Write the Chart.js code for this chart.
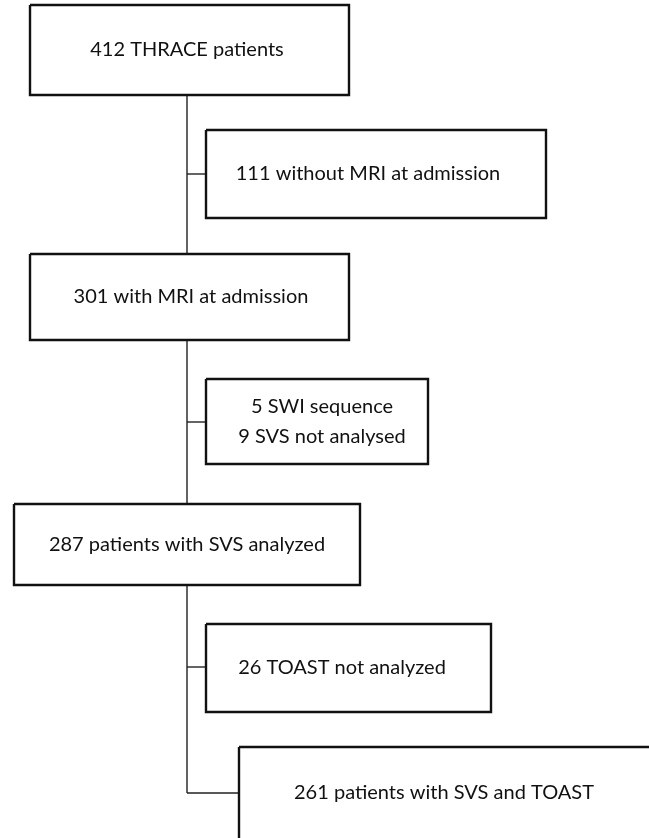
<!DOCTYPE html>
<html>
<head>
<meta charset="utf-8">
<title>THRACE flow chart</title>
<script src="https://cdn.jsdelivr.net/npm/chart.js@4.4.1/dist/chart.umd.min.js"></script>
<style>
    html, body { margin: 0; padding: 0; background: #ffffff; }
    #wrap { width: 649px; height: 838px; position: relative; }
</style>
</head>
<body>
<div id="wrap"><canvas id="flow"></canvas></div>
<script>
// Patient counts at each step of the flow
const stepCounts = [412, 111, 301, [5, 9], 287, 26, 261];
const stepTexts = [
    ["THRACE patients"],
    ["without MRI at admission"],
    ["with MRI at admission"],
    ["SWI sequence", "SVS not analysed"],
    ["patients with SVS analyzed"],
    ["TOAST not analyzed"],
    ["patients with SVS and TOAST"]
];

// Layout of the boxes in chart units (x 0..649, y 0..838 top-down)
const boxLayout = [
    { left: 30,  top: 5,   right: 349, bottom: 95,  textX: 187 },
    { left: 206, top: 130, right: 546, bottom: 218, textX: 368 },
    { left: 30,  top: 254, right: 349, bottom: 340, textX: 191 },
    { left: 206, top: 379, right: 428, bottom: 464, textX: 322 },
    { left: 14,  top: 504, right: 360, bottom: 585, textX: 187 },
    { left: 206, top: 624, right: 491, bottom: 712, textX: 342 },
    { left: 239, top: 747, right: 700, bottom: 900, textX: 444, textY: 793 }
];

// Connector lines: main trunk and side branches
const trunkX = 187;
const trunkSegments = [[95, 254], [340, 504], [585, 793]];
const branches = [[174, 206], [422, 206], [667, 206], [793, 239]];

const datasets = [];

boxLayout.forEach(b => {
    datasets.push({
        data: [
            { x: b.left, y: b.top }, { x: b.right, y: b.top },
            { x: b.right, y: b.bottom }, { x: b.left, y: b.bottom },
            { x: b.left, y: b.top }
        ],
        borderColor: '#111111',
        borderWidth: 2.4,
        borderJoinStyle: 'miter',
        showLine: true,
        pointRadius: 0,
        fill: false
    });
});

trunkSegments.forEach(s => {
    datasets.push({
        data: [{ x: trunkX, y: s[0] }, { x: trunkX, y: s[1] }],
        borderColor: '#222222',
        borderWidth: 1.4,
        showLine: true,
        pointRadius: 0
    });
});

branches.forEach(br => {
    datasets.push({
        data: [{ x: trunkX, y: br[0] }, { x: br[1], y: br[0] }],
        borderColor: '#222222',
        borderWidth: 1.4,
        showLine: true,
        pointRadius: 0
    });
});

// Draws the box texts at positions converted through the scales
const boxTextPlugin = {
    id: 'boxText',
    afterDatasetsDraw(chart) {
        const ctx = chart.ctx;
        const xs = chart.scales.x;
        const ys = chart.scales.y;
        ctx.save();
        ctx.fillStyle = '#111111';
        ctx.font = '20px Lato';
        ctx.textAlign = 'center';
        ctx.textBaseline = 'middle';
        boxLayout.forEach((b, i) => {
            const counts = Array.isArray(stepCounts[i]) ? stepCounts[i] : [stepCounts[i]];
            const lines = stepTexts[i].map((t, k) => counts[k] + ' ' + t);
            const cy = b.textY !== undefined ? b.textY : (b.top + b.bottom) / 2;
            const lineGap = 30;
            const startY = cy - (lines.length - 1) * lineGap / 2;
            lines.forEach((line, k) => {
                ctx.fillText(line, xs.getPixelForValue(b.textX), ys.getPixelForValue(startY + k * lineGap));
            });
        });
        ctx.restore();
    }
};

new Chart(document.getElementById('flow'), {
    type: 'scatter',
    data: { datasets: datasets },
    options: {
        responsive: true,
        maintainAspectRatio: false,
        animation: false,
        layout: { padding: 0 },
        plugins: { legend: { display: false }, tooltip: { enabled: false } },
        scales: {
            x: { type: 'linear', min: 0, max: 649, display: false },
            y: { type: 'linear', min: 0, max: 838, reverse: true, display: false }
        }
    },
    plugins: [boxTextPlugin]
});
</script>
</body>
</html>
